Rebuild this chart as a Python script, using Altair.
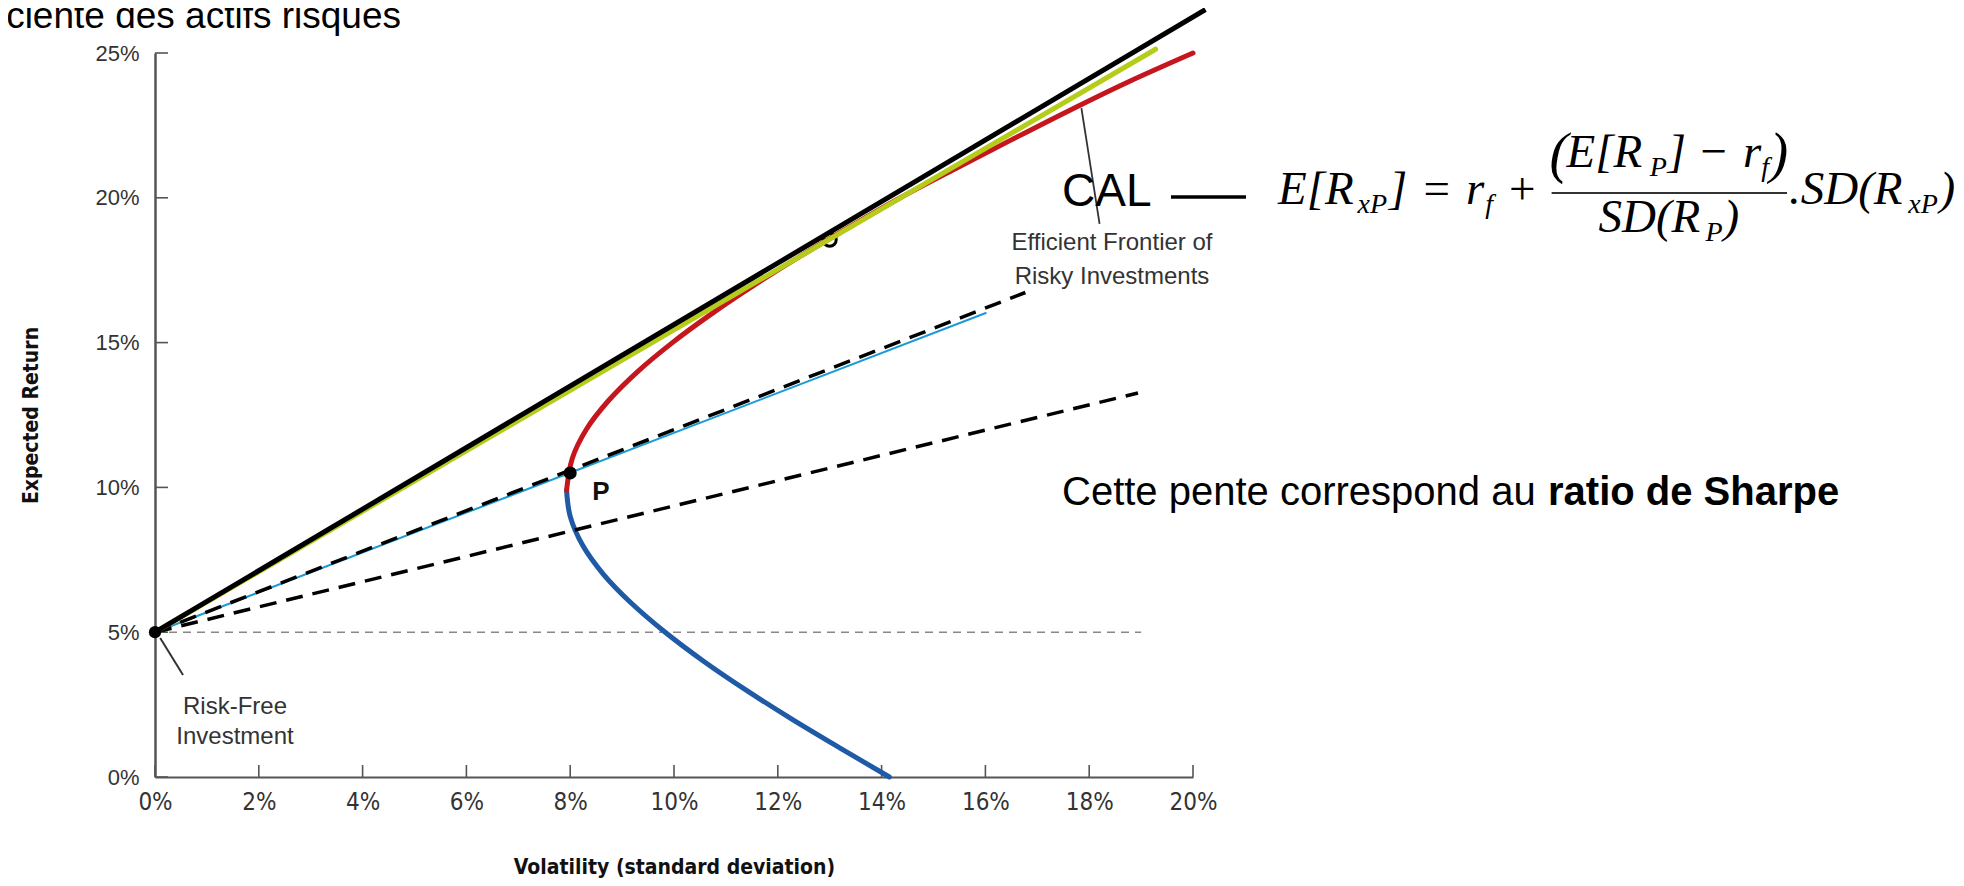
import altair as alt
import pandas as pd

# ---------------- data ----------------
X_TICKS = [0, 2, 4, 6, 8, 10, 12, 14, 16, 18, 20]
Y_TICKS = [0, 5, 10, 15, 20, 25]

# minimum-variance frontier, lower (inefficient) part: (return, volatility)
LOW_RET = [0, 1, 2, 3, 4, 5, 6, 7, 8, 9, 9.9]
LOW_VOL = [14.15, 13.2, 12.27, 11.39, 10.57, 9.83, 9.18, 8.64, 8.24, 8.0, 7.93]
# efficient (upper) part
UP_RET = [9.9, 11, 12, 13, 14, 15, 16, 17, 18, 19, 20, 21, 22, 23, 24, 25]
UP_VOL = [7.93, 8.04, 8.31, 8.74, 9.3, 9.97, 10.73, 11.56, 12.45, 13.39, 14.36,
          15.42, 16.5, 17.6, 18.75, 20.0]

CAL_VOL, CAL_RET = [0, 20.24], [5, 26.5]          # tangent line (black)
GREEN_VOL, GREEN_RET = [0, 19.28], [5, 25.13]     # green line
THIN_VOL, THIN_RET = [0, 16.02], [5, 16.03]       # thin blue line through P
DASH1_VOL, DASH1_RET = [0, 16.77], [5, 16.73]     # upper dashed line
DASH2_VOL, DASH2_RET = [0, 18.94], [5, 13.26]     # lower dashed line
RFL_VOL, RFL_RET = [0, 19.0], [5, 5]              # risk-free level (grey dashed)
RF_VOL, RF_RET = [0], [5]
P_VOL, P_RET = [8.0], [10.5]
T_VOL, T_RET = [13.0], [18.55]
LEAD_EF_VOL, LEAD_EF_RET = [17.85, 18.2], [23.1, 19.1]
LEAD_RF_VOL, LEAD_RF_RET = [0.1, 0.54], [4.8, 3.52]

# ---------------- styling ----------------
W, H = 1038, 724
COND = "DejaVu Sans Condensed, Liberation Sans Narrow, sans-serif"
SANS = "Liberation Sans, Arial, sans-serif"
SERIF = "Liberation Serif, Times New Roman, serif"
RED = "#c4161c"
BLUE = "#1f5aa6"
GREEN = "#b5cc18"
THIN = "#1a9ad6"
AXC = "#555555"

xs = alt.Scale(domain=[0, 20], nice=False, zero=False)
ys = alt.Scale(domain=[0, 25], nice=False, zero=False)

x_axis = alt.Axis(values=X_TICKS, labelExpr="datum.value + '%'", ticks=False, grid=False,
                  domainColor=AXC, domainWidth=2, labelFont=COND, labelFontSize=24,
                  labelColor="#333333", labelPadding=13, labelFlush=False,
                  title="Volatility (standard deviation)", titleFont=COND,
                  titleFontWeight="bold", titleFontSize=21, titleColor="#111111",
                  titleX=W / 2, titleY=90, titleBaseline="middle", titleAlign="center")
y_axis = alt.Axis(values=Y_TICKS, labelExpr="datum.value + '%'", ticks=False, grid=False,
                  domainColor=AXC, domainWidth=2.5, labelFont=SANS, labelFontSize=22,
                  labelColor="#333333", labelPadding=16, labelFlush=False,
                  title="Expected Return", titleFont=COND, titleFontWeight="bold",
                  titleFontSize=21, titleColor="#111111", titleX=-124, titleY=H / 2,
                  titleBaseline="middle", titleAlign="center", titleAngle=270)


def X():
    return alt.X("vol:Q", scale=xs, axis=x_axis)


def Y():
    return alt.Y("ret:Q", scale=ys, axis=y_axis)


def df(vols, rets):
    return pd.DataFrame({"vol": vols, "ret": rets, "i": list(range(len(vols)))})


def line(vols, rets, **kw):
    return alt.Chart(df(vols, rets)).mark_line(**kw).encode(x=X(), y=Y(), order="i:Q")


one = pd.DataFrame({"t": [""]})


def txt(s, px, py, **kw):
    return alt.Chart(one).mark_text(text=s, **kw).encode(x=alt.value(px), y=alt.value(py))


def prule(x1, x2, y, **kw):
    return alt.Chart(one).mark_rule(**kw).encode(x=alt.value(x1), x2=alt.value(x2), y=alt.value(y))


layers = []

# ticks pointing inward
layers.append(alt.Chart(pd.DataFrame({"vol": X_TICKS})).mark_rule(color=AXC, strokeWidth=1.6)
              .encode(x=X(), y=alt.value(H), y2=alt.value(H - 12)))
layers.append(alt.Chart(pd.DataFrame({"ret": Y_TICKS})).mark_rule(color=AXC, strokeWidth=1.6)
              .encode(y=Y(), x=alt.value(0), x2=alt.value(13)))

# risk-free level
layers.append(line(RFL_VOL, RFL_RET, color="#888888", strokeWidth=1.5, strokeDash=[8, 6]))

# tangency marker (below the lines)
layers.append(alt.Chart(df(T_VOL, T_RET)).mark_point(shape="circle", filled=True, fill="white",
                                                     stroke="black", strokeWidth=3, size=170,
                                                     opacity=1).encode(x=X(), y=Y()))

# frontier
layers.append(line(LOW_VOL, LOW_RET, color=BLUE, strokeWidth=5, interpolate="catmull-rom",
                   strokeCap="round"))
layers.append(line(UP_VOL, UP_RET, color=RED, strokeWidth=5, interpolate="catmull-rom",
                   strokeCap="round"))

# capital allocation lines
layers.append(line(DASH2_VOL, DASH2_RET, color="black", strokeWidth=3.5, strokeDash=[17, 10]))
layers.append(line(THIN_VOL, THIN_RET, color=THIN, strokeWidth=2))
layers.append(line(DASH1_VOL, DASH1_RET, color="black", strokeWidth=3.5, strokeDash=[17, 10]))
layers.append(line(GREEN_VOL, GREEN_RET, color=GREEN, strokeWidth=5, strokeCap="round"))
layers.append(line(CAL_VOL, CAL_RET, color="black", strokeWidth=5))

# points
layers.append(alt.Chart(df(RF_VOL, RF_RET)).mark_circle(color="black", size=150, opacity=1)
              .encode(x=X(), y=Y()))
layers.append(alt.Chart(df(P_VOL, P_RET)).mark_circle(color="black", size=170, opacity=1)
              .encode(x=X(), y=Y()))

# leader lines
layers.append(line(LEAD_EF_VOL, LEAD_EF_RET, color="#333333", strokeWidth=1.8))
layers.append(line(LEAD_RF_VOL, LEAD_RF_RET, color="#333333", strokeWidth=2))

# text annotations (pixel positions relative to plot origin)
layers.append(txt("P", 446, 447, font=SANS, fontWeight="bold", fontSize=26, color="#111111",
                  align="center", baseline="alphabetic"))
layers.append(txt("Risk-Free", 80, 661, font=SANS, fontSize=24, color="#333333",
                  align="center", baseline="alphabetic"))
layers.append(txt("Investment", 80, 691, font=SANS, fontSize=24, color="#333333",
                  align="center", baseline="alphabetic"))
layers.append(txt("Efficient Frontier of", 957, 197, font=SANS, fontSize=24, color="#333333",
                  align="center", baseline="alphabetic"))
layers.append(txt("Risky Investments", 957, 231, font=SANS, fontSize=24, color="#333333",
                  align="center", baseline="alphabetic"))

layers.append(txt("Frontière efficiente des actifs risques", 246, -25, font=SANS, fontSize=37,
                  color="black", align="right", baseline="alphabetic"))

layers.append(txt("CAL", 907, 153, font=SANS, fontSize=46, color="black", align="left",
                  baseline="alphabetic"))
layers.append(prule(1016, 1091, 144, color="black", strokeWidth=3.5))

layers.append(txt("Cette pente correspond au", 907, 452, font=SANS, fontSize=40, color="black",
                  align="left", baseline="alphabetic"))
layers.append(txt("ratio de Sharpe", 1393, 452, font=SANS, fontSize=40, fontWeight="bold",
                  color="black", align="left", baseline="alphabetic"))

# equation  E[R_xP] = r_f + (E[R_P] - r_f) / SD(R_P) . SD(R_xP)
EQ_MAIN, EQ_NUM, EQ_DEN, EQ_BAR = 151, 114, 179, 140
FS, FSUB, SUBDY = 47, 28, 9
main_pieces = [("E[R", 1123, FS, 0), ("xP", 1202.6, FSUB, SUBDY), ("]", 1233.9, FS, 0),
               ("=", 1265.4, FS, 0), ("r", 1311.1, FS, 0), ("f", 1330.3, FSUB, SUBDY),
               ("+", 1350.9, FS, 0), (".SD(R", 1634.0, FS, 0), ("xP", 1753.3, FSUB, SUBDY),
               (")", 1784.6, FS, 0)]
num_pieces = [("(", 1394.6, 56, 5), ("E[R", 1411.6, FS, 0), ("P", 1494.7, FSUB, SUBDY),
              ("]", 1512.8, FS, 0), ("\u2212", 1542.4, FS, 0), ("r", 1588.1, FS, 0),
              ("f", 1606.3, FSUB, SUBDY), (")", 1614.5, 56, 5)]
den_pieces = [("SD(R", 1443.5, FS, 0), ("P", 1550.5, FSUB, SUBDY), (")", 1568.6, FS, 0)]
for pieces, base in ((main_pieces, EQ_MAIN), (num_pieces, EQ_NUM), (den_pieces, EQ_DEN)):
    for s, px, size, dy in pieces:
        layers.append(txt(s, px, base + dy, font=SERIF, fontStyle="italic", fontSize=size,
                          color="black", align="left", baseline="alphabetic"))
layers.append(prule(1396.6, 1632.0, EQ_BAR, color="#333333", strokeWidth=2))

chart = alt.layer(*layers).properties(
    width=W, height=H,
    padding={"left": 147, "top": 45, "right": 763, "bottom": 101},
    autosize=alt.AutoSizeParams(type="none"),
).configure_view(stroke=None)

chart.save("out.html", embed_options={"renderer": "svg", "actions": False})
